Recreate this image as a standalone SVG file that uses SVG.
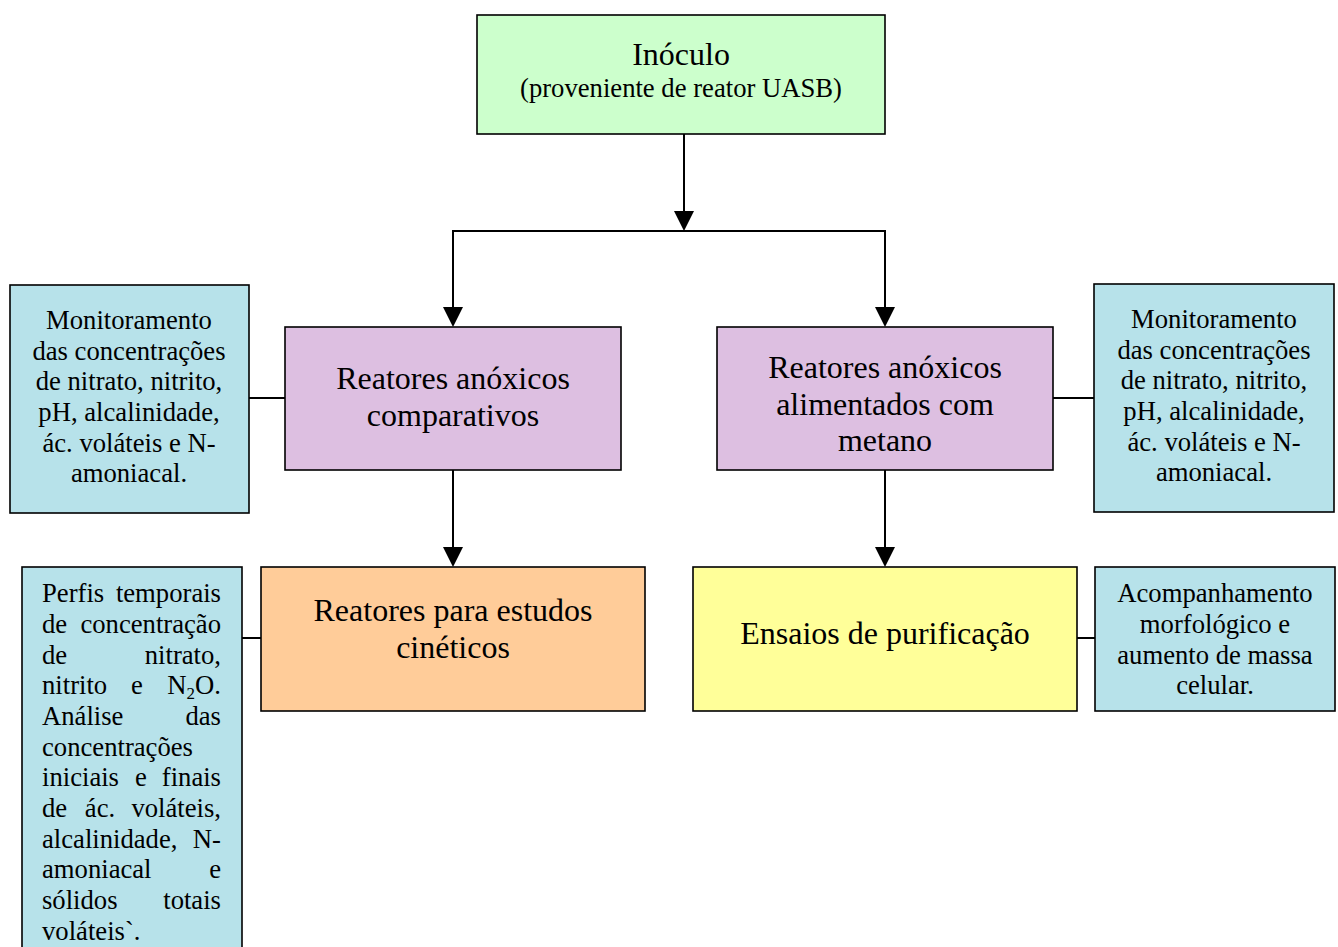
<svg xmlns="http://www.w3.org/2000/svg" width="1338" height="947" viewBox="0 0 1338 947">
<style>
.box{stroke:#000;stroke-width:1.6}
.t{font-family:"Liberation Serif","Times New Roman",serif;fill:#000}
.b{font-size:32px;text-anchor:middle}
.s{font-size:26.67px}
.c{text-anchor:middle}
.e{text-anchor:end}
.ln{stroke:#000;stroke-width:2;fill:none}
.ah{fill:#000}
</style>
<rect width="1338" height="947" fill="#fff"/>
<g id="connectors">
<line class="ln" x1="684" y1="134" x2="684" y2="212"/>
<polygon class="ah" points="674,211 694,211 684,231"/>
<polyline class="ln" points="453,308 453,231 885,231 885,308"/>
<polygon class="ah" points="443,307 463,307 453,327"/>
<polygon class="ah" points="875,307 895,307 885,327"/>
<line class="ln" x1="453" y1="470" x2="453" y2="548"/>
<polygon class="ah" points="443,547 463,547 453,567"/>
<line class="ln" x1="885" y1="470" x2="885" y2="548"/>
<polygon class="ah" points="875,547 895,547 885,567"/>
<line class="ln" x1="249" y1="398" x2="285" y2="398"/>
<line class="ln" x1="1053" y1="398" x2="1094" y2="398"/>
<line class="ln" x1="242" y1="638" x2="261" y2="638"/>
<line class="ln" x1="1077" y1="638" x2="1095" y2="638"/>
</g>
<g id="inoculo">
<rect class="box" x="477" y="15" width="408" height="119" fill="#CCFFCC"/>
<text class="t b" x="681" y="65">Inóculo</text>
<text class="t s c" x="681" y="97">(proveniente de reator UASB)</text>
</g>
<g id="reatores-comparativos">
<rect class="box" x="285" y="327" width="336" height="143" fill="#DDBFE1"/>
<text class="t b" x="453" y="389">Reatores anóxicos</text>
<text class="t b" x="453" y="426">comparativos</text>
</g>
<g id="reatores-metano">
<rect class="box" x="717" y="327" width="336" height="143" fill="#DDBFE1"/>
<text class="t b" x="885" y="378">Reatores anóxicos</text>
<text class="t b" x="885" y="415">alimentados com</text>
<text class="t b" x="885" y="451">metano</text>
</g>
<g id="monitoramento-esq">
<rect class="box" x="10" y="285" width="239" height="228" fill="#B7E2EA"/>
<text class="t s c" x="129" y="329">Monitoramento</text>
<text class="t s c" x="129" y="360">das concentrações</text>
<text class="t s c" x="129" y="390">de nitrato, nitrito,</text>
<text class="t s c" x="129" y="421">pH, alcalinidade,</text>
<text class="t s c" x="129" y="452">ác. voláteis e N-</text>
<text class="t s c" x="129" y="482">amoniacal.</text>
</g>
<g id="monitoramento-dir">
<rect class="box" x="1094" y="284" width="240" height="228" fill="#B7E2EA"/>
<text class="t s c" x="1214" y="328">Monitoramento</text>
<text class="t s c" x="1214" y="359">das concentrações</text>
<text class="t s c" x="1214" y="389">de nitrato, nitrito,</text>
<text class="t s c" x="1214" y="420">pH, alcalinidade,</text>
<text class="t s c" x="1214" y="451">ác. voláteis e N-</text>
<text class="t s c" x="1214" y="481">amoniacal.</text>
</g>
<g id="reatores-cineticos">
<rect class="box" x="261" y="567" width="384" height="144" fill="#FFCC99"/>
<text class="t b" x="453" y="621">Reatores para estudos</text>
<text class="t b" x="453" y="658">cinéticos</text>
</g>
<g id="ensaios">
<rect class="box" x="693" y="567" width="384" height="144" fill="#FFFF99"/>
<text class="t b" x="885" y="644">Ensaios de purificação</text>
</g>
<g id="acompanhamento">
<rect class="box" x="1095" y="567" width="240" height="144" fill="#B7E2EA"/>
<text class="t s c" x="1215" y="602">Acompanhamento</text>
<text class="t s c" x="1215" y="633">morfológico e</text>
<text class="t s c" x="1215" y="664">aumento de massa</text>
<text class="t s c" x="1215" y="694">celular.</text>
</g>
<g id="perfis">
<rect class="box" x="22" y="567" width="220" height="400" fill="#B7E2EA"/>
<text class="t s" x="42" y="602">Perfis</text><text class="t s e" x="221" y="602">temporais</text>
<text class="t s" x="42" y="633">de</text><text class="t s e" x="221" y="633">concentração</text>
<text class="t s" x="42" y="664">de</text><text class="t s e" x="221" y="664">nitrato,</text>
<text class="t s" x="42" y="694">nitrito</text><text class="t s c" x="137" y="694">e</text><text class="t s e" x="221" y="694">N<tspan font-size="17" dy="5">2</tspan><tspan dy="-5">O.</tspan></text>
<text class="t s" x="42" y="725">Análise</text><text class="t s e" x="221" y="725">das</text>
<text class="t s" x="42" y="756">concentrações</text>
<text class="t s" x="42" y="786">iniciais</text><text class="t s c" x="141" y="786">e</text><text class="t s e" x="221" y="786">finais</text>
<text class="t s" x="42" y="817">de</text><text class="t s c" x="100" y="817">ác.</text><text class="t s e" x="221" y="817">voláteis,</text>
<text class="t s" x="42" y="848">alcalinidade,</text><text class="t s e" x="221" y="848">N-</text>
<text class="t s" x="42" y="878">amoniacal</text><text class="t s e" x="221" y="878">e</text>
<text class="t s" x="42" y="909">sólidos</text><text class="t s e" x="221" y="909">totais</text>
<text class="t s" x="42" y="940">voláteis`.</text>
</g>
</svg>
